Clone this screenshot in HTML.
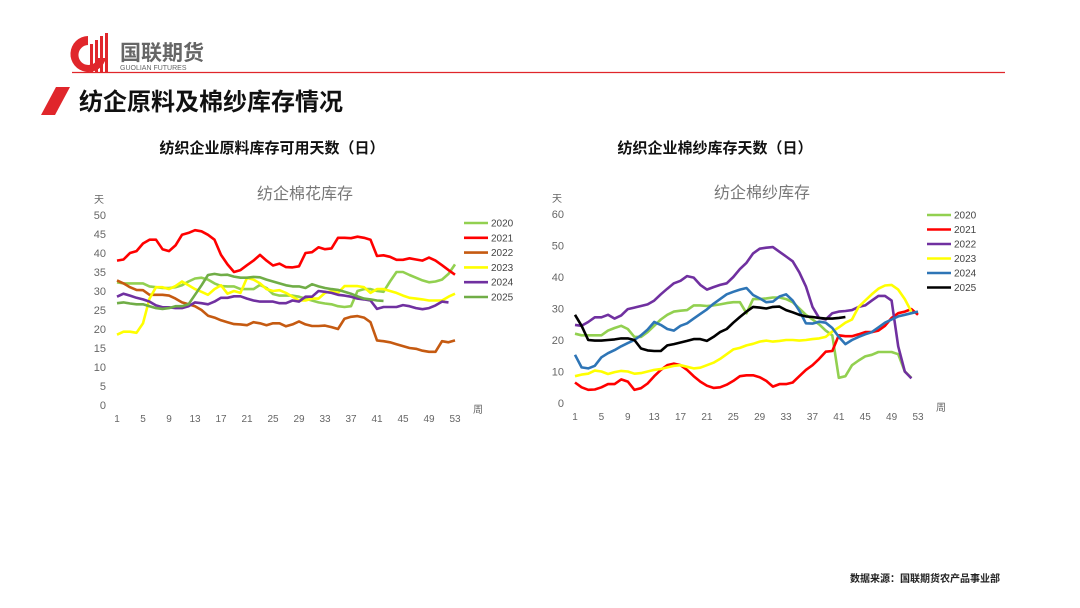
<!DOCTYPE html>
<html><head><meta charset="utf-8">
<style>
body{margin:0;background:#fff;width:1080px;height:608px;overflow:hidden;font-family:"Liberation Sans","Noto Sans CJK SC",sans-serif;}
svg{position:absolute;left:0;top:0}
</style></head>
<body>
<svg id="s" width="1080" height="608">
  <g>
    <path d="M88 36 A18 18 0 1 0 106 58 L98 58 A10 10 0 1 1 88 45 Z" fill="#e0262b"/>
    <rect x="90" y="44" width="3" height="28" fill="#e0262b"/>
    <rect x="95" y="40" width="3" height="32" fill="#e0262b"/>
    <rect x="100" y="36" width="3" height="36" fill="#e0262b"/>
    <rect x="105" y="33" width="3" height="39" fill="#e0262b"/>
    <text x="120" y="60" font-size="21" fill="#666" font-weight="bold">国联期货</text>
    <text x="120" y="70" font-size="7" fill="#666">GUOLIAN FUTURES</text>
  </g>
  <line x1="72" y1="72.5" x2="1005" y2="72.5" stroke="#e0262b" stroke-width="1.2"/>
  <polygon points="56,87 70,87 55,115 41,115" fill="#e0262b"/>
  <text x="79" y="110" font-size="24" font-weight="bold" fill="#111">纺企原料及棉纱库存情况</text>
  <text x="272" y="153" font-size="15" font-weight="bold" text-anchor="middle" fill="#111">纺织企业原料库存可用天数（日）</text>
  <text x="715" y="153" font-size="15" font-weight="bold" text-anchor="middle" fill="#111">纺织企业棉纱库存天数（日）</text>
  <text x="1000" y="582" font-size="10" font-weight="bold" text-anchor="end" fill="#222">数据来源：国联期货农产品事业部</text>
  <g id="L"></g><g id="R"></g>
</svg>
<script>
const years=['2020','2021','2022','2023','2024','2025'];
const xTicks=[1,5,9,13,17,21,25,29,33,37,41,45,49,53];
const leftYTicks=[0,5,10,15,20,25,30,35,40,45,50];
const rightYTicks=[0,10,20,30,40,50,60];
const leftColors=['#92d050','#ff0000','#c55a11','#ffff00','#7030a0','#70ad47'];
const rightColors=['#92d050','#ff0000','#7030a0','#ffff00','#2e75b6','#000000'];
const L2020=[32.3,32,32,32,32,31.2,31,30.8,30.8,31,31.5,32.5,33.3,33.5,33,32,31.3,31.2,31.2,30.5,30.5,30.5,31.6,30.8,29.2,28.8,28.8,28.8,28.5,28,27.5,27,26.7,26.5,26,25.8,26,30,30.5,30.5,30,29.8,32.5,35,35,34.2,33.5,32.8,32.3,32.5,33,34.5,37];
const L2021=[38,38.3,40,40.5,42.5,43.5,43.5,41,40.5,42,44.8,45.3,46,45.7,44.8,43.5,39.5,37,35,35.5,36.8,38,39.5,38,36.7,37.2,36.3,36.2,36.5,40,40.2,41.5,41,41.2,44,44,43.9,44.3,44,43.5,39.2,39.4,39,38.2,38.2,38.6,38.3,38,38.8,38,36.8,35.5,34.3];
const L2022=[32.8,32,31,30.3,30.2,29,29,29,28.8,28,27,26.5,26,25,23.5,23,22.3,21.8,21.3,21.2,21,21.8,21.5,21,21.5,21.5,20.7,21.2,22,21.2,20.8,20.8,20.9,20.5,20,22.7,23.2,23.4,23,21.8,17,16.8,16.5,16,15.5,15,14.8,14.3,14,14,16.8,16.5,17];
const L2023=[18.5,19.3,19.3,19,21.5,28,31,31,30.5,31.3,32.5,31.5,30.5,29.8,29,30.5,31.5,29.3,30,29.5,33.5,33,32,30.5,30,30.2,29.5,28.5,27.5,27.5,28,28,29.5,30,29.5,31.3,31.3,31.3,31,29.5,30.5,30.5,30,29.5,28.8,28.2,28,27.8,27.5,27.5,27.5,28.5,29.3];
const L2024=[28.5,29.3,28.8,28.2,27.8,27.2,26.2,25.7,25.7,25.5,25.5,26,27,26.8,26.5,27.2,28.2,28.2,28.6,28.6,28,27.5,27.2,27.2,27.2,26.8,26.8,27.5,27.2,28.5,28.5,30,29.8,29.5,29,28.8,28.5,28,27.8,27.5,25.3,25.8,25.8,25.8,26.3,26,25.5,25.2,25.5,26.2,27.2,27];
const L2025=[26.8,27,26.7,26.5,26.5,26,25.5,25.3,25.5,26,26,26.5,29,31.5,34.2,34.5,34.2,34.3,33.8,33.5,33.5,33.7,33.6,33,32.5,32,31.5,31.2,31.2,30.8,31.8,31.2,30.8,30.5,30.3,29.8,29.3,28.6,28,27.8,27.5,27.4];
const R2020=[22,21.5,21.5,21.5,21.5,23,23.8,24.5,23.5,21,21,22.5,24.5,26.5,28,29,29.3,29.5,31,31,30.8,31,31.3,31.7,32,32,28.5,33,33,33.2,33.5,33.5,33,32,30,28,26.5,25,23,21.5,8,8.5,12,13.5,14.8,15.3,16.2,16.2,16.2,15.5,10,8];
const R2021=[6.5,5,4.2,4.3,5,6,6,7.5,6.8,4.2,4.7,6.2,8.5,10.5,12,12.5,12,10.5,8.5,6.8,5.5,4.8,5,5.8,7,8.5,8.8,8.8,8.2,7,5.2,6,6,6.5,8.5,10.5,12,14,16.3,16.5,21.5,21.2,21.2,21.8,22.5,22.5,23,24.5,27,28.5,29,29.8,28];
const R2022=[24.8,24.5,25.7,27.2,27.2,28,26.8,27.8,29.8,30.3,30.8,31.3,32.5,34.5,36.3,38,38.8,40.3,39.8,37.5,36,36.8,37.5,38,40,42.5,44.5,47.5,49,49.3,49.5,48,46.5,45,41.5,37,30.5,27,26.5,28.5,29,29.2,29.5,30.5,31,32.5,34,34,32.5,18,10,7.8];
const R2023=[8.5,9,9.3,10.3,10,9.2,9.8,10.2,10,9.3,9.5,10,10.5,10.8,11.3,11.8,12,11.5,11,11.2,12,12.8,14,15.5,17,17.5,18.3,18.8,19.5,19.8,19.5,19.7,20,20,19.8,20,20.3,20.5,21,22.7,24,25.5,26.5,30.5,32.5,34.5,36.3,37.3,37.5,36,33,29];
const R2024=[15.3,11.3,11,11.8,14.5,15.8,16.8,18,19,20,21.5,23.3,25.7,24.8,23.5,23,24.5,25.3,26.8,28.3,29.7,31.5,33,34.5,35.3,36,36.5,34.3,33.2,32,32.2,33.8,34.5,32.5,29.3,25.3,25.2,25.8,25.5,23.8,21,18.7,20,21,21.8,22.5,24,25.5,26.5,27.5,28,28.5,29];
const R2025=[28,24.5,20,19.8,19.8,20,20.2,20.5,20.5,20,17.3,16.7,16.5,16.5,18.3,18.7,19.2,19.7,20.3,20.3,19.7,21,22.5,23.5,25.5,27.3,29,30.5,30.3,30,30.5,30.6,29.5,28.8,28,27.5,27.3,27,26.8,26.8,27,27.3];

const NS='http://www.w3.org/2000/svg';
function mk(p,tag,at){const e=document.createElementNS(NS,tag);for(const k in at)e.setAttribute(k,at[k]);p.appendChild(e);return e;}
function chart(gid,cfg,series,colors,yTicks){
  const g=document.getElementById(gid);
  const xs=w=>cfg.x0+(w-1)*(cfg.x1-cfg.x0)/52;
  const ys=v=>cfg.y0-v*(cfg.y0-cfg.yTop)/cfg.ymax;
  let t=mk(g,'text',{x:cfg.tx,y:cfg.yTop-16,'font-size':16,fill:'#777','text-anchor':'middle'});t.textContent=cfg.title;
  
  
  t=mk(g,'text',{x:cfg.x0-23,y:cfg.yTop-12,'font-size':10,fill:'#666'});t.textContent='天';
  
  
  t=mk(g,'text',{x:cfg.x1+18,y:cfg.y0+8,'font-size':10,fill:'#666'});t.textContent='周';
  
  
  yTicks.forEach(v=>{const e=mk(g,'text',{x:cfg.x0-11,y:ys(v)+4,'font-size':11,fill:'#666','text-anchor':'end'});e.textContent=v;
    
    });
  xTicks.forEach(v=>{const e=mk(g,'text',{x:xs(v),y:cfg.y0+17,'font-size':10,fill:'#666','text-anchor':'middle'});e.textContent=v;
    
    });
  series.forEach((d,i)=>{
    const pts=d.map((v,k)=>xs(k+1).toFixed(1)+','+ys(v).toFixed(1)).join(' ');
    const pl=mk(g,'polyline',{points:pts,fill:'none',stroke:colors[i],'stroke-width':2.6,'stroke-linejoin':'round'});
    
    
    const ly=cfg.ly+i*cfg.ld;
    const ln=mk(g,'line',{x1:cfg.lx,y1:ly,x2:cfg.lx+24,y2:ly,stroke:colors[i],'stroke-width':2.6});
    
    
    const lt=mk(g,'text',{x:cfg.lx+27,y:ly+3.5,'font-size':10,fill:'#444'});lt.textContent=years[i];
    
    
  });
}
chart('L',{x0:117,x1:455,y0:405,yTop:215,ymax:50,tx:305,title:'纺企棉花库存',lx:464,ly:223,ld:14.8},[L2020,L2021,L2022,L2023,L2024,L2025],leftColors,leftYTicks);
chart('R',{x0:575,x1:918,y0:403,yTop:214,ymax:60,tx:762,title:'纺企棉纱库存',lx:927,ly:215,ld:14.5},[R2020,R2021,R2022,R2023,R2024,R2025],rightColors,rightYTicks);
</script>
</body></html>
